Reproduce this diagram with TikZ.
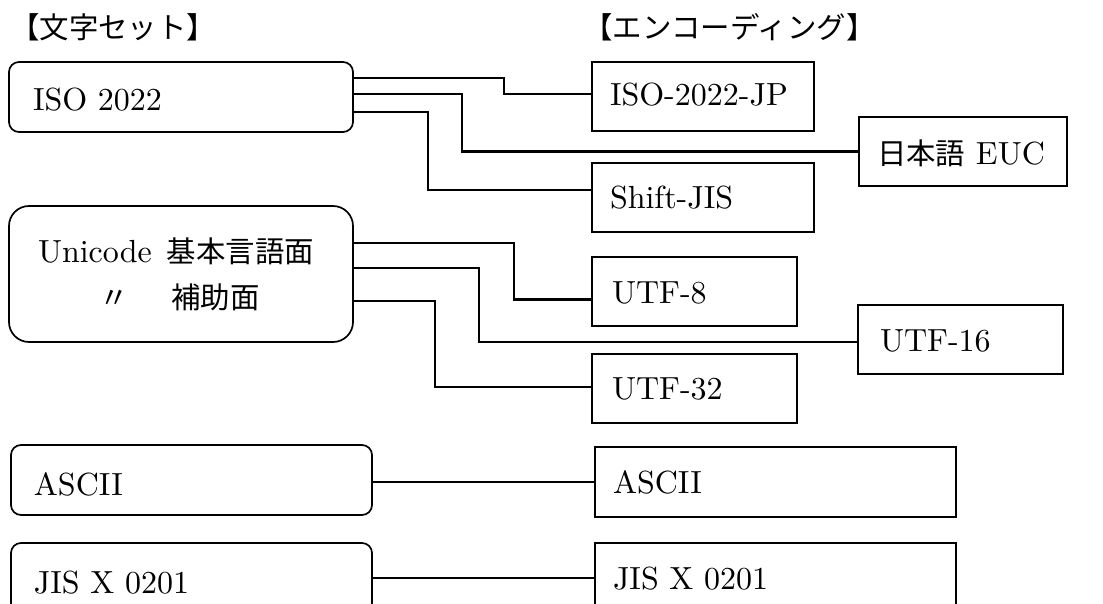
\documentclass[tikz,border=0pt]{standalone}
\usepackage{fontspec}
\setmainfont{lmroman10-regular.otf}
\newfontfamily\jp{Noto Sans CJK JP}[Scale=0.92]
\newcommand\lbox[3]{\makebox[#1][l]{\raisebox{#2}{#3}}}
\begin{document}
\begin{tikzpicture}[x=1pt,y=-1pt,
  every node/.style={font=\fontsize{32}{46}\selectfont, inner ysep=0pt},
  setbox/.style={draw, line width=1.7pt, rounded corners=10pt, text height=22pt, text depth=0pt},
  unibox/.style={draw, line width=1.7pt, rounded corners=20pt, align=left},
  encbox/.style={draw, line width=1.3pt, text height=22pt, text depth=0pt, minimum height=69pt, inner xsep=18pt},
  conn/.style={line width=2.2pt},
  title/.style={anchor=west, inner sep=0pt}]
\useasboundingbox (0,0) rectangle (1103,604);
\clip (0,0) rectangle (1103,604);

% titles
\node[title] (t1) at (10,27) {\jp 【文字セット】};
\node[title] (t2) at (583,27) {\jp 【エンコーディング】};

% character sets
\node[setbox, minimum width=344pt, minimum height=70pt, inner xsep=24pt] (iso) at (181,97) {\lbox{296pt}{-3pt}{ISO 2022}};
\node[unibox, minimum width=344pt, minimum height=136pt, inner xsep=29pt] (uni) at (181,274)
  {\makebox[286pt][l]{Unicode\hspace{15pt}{\jp 基本言語面}}\\
   \makebox[286pt][l]{\hspace{61pt}{\jp 〃}\hspace{43pt}{\jp 補助面}}};
\node[setbox, minimum width=361pt, minimum height=70pt, inner xsep=23pt] (ascl) at (191.5,480) {\lbox{315pt}{-4pt}{ASCII}};
\node[setbox, minimum width=361pt, minimum height=70pt, inner xsep=23pt] (jisl) at (191.5,578) {\lbox{315pt}{-4pt}{JIS X 0201}};

% encodings
\node[encbox, minimum width=222pt] (jp) at (703,96.5) {\lbox{186pt}{2pt}{ISO-2022-JP}};
\node[encbox, minimum width=208pt] (euc) at (963,151.5) {\lbox{172pt}{-2pt}{{\jp 日本語} EUC}};
\node[encbox, minimum width=222pt] (sjis) at (703,197.5) {\lbox{186pt}{0pt}{Shift-JIS}};
\node[encbox, minimum width=205pt, inner xsep=20pt] (utf8) at (694.5,291.5) {\lbox{165pt}{-1pt}{UTF-8}};
\node[encbox, minimum width=205pt, inner xsep=22pt] (utf16) at (960.5,339.5) {\lbox{161pt}{-1pt}{UTF-16}};
\node[encbox, minimum width=205pt, inner xsep=20pt] (utf32) at (694.5,388.5) {\lbox{165pt}{0pt}{UTF-32}};
\node[encbox, minimum width=361pt, minimum height=70pt] (ascr) at (775.5,482) {\lbox{325pt}{0pt}{ASCII}};
\node[encbox, minimum width=361pt, minimum height=70pt] (jisr) at (775.5,578) {\lbox{325pt}{0pt}{JIS X 0201}};

% connectors
\draw[conn] ([yshift=-17pt]iso.north east) -- ++(150,0) |- ([yshift=2.5pt]jp.west);
\draw[conn] ([yshift=-33pt]iso.north east) -- ++(108,0) |- (euc.west);
\draw[conn] ([yshift=-51pt]iso.north east) -- ++(74,0) |- ([yshift=7.5pt]sjis.west);
\draw[conn] ([yshift=-38pt]uni.north east) -- ++(160,0) |- ([yshift=-8pt]utf8.west);
\draw[conn] ([yshift=-63pt]uni.north east) -- ++(125,0) |- ([yshift=-2.5pt]utf16.west);
\draw[conn] ([yshift=-96pt]uni.north east) -- ++(81,0) |- ([yshift=1.5pt]utf32.west);
\draw[conn] (ascl.east |- ascr.west) -- (ascr.west);
\draw[conn] (jisl.east |- jisr.west) -- (jisr.west);
\end{tikzpicture}
\end{document}
